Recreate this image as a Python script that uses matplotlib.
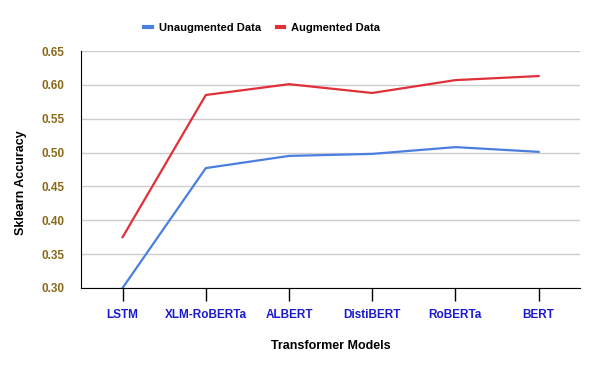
import matplotlib
matplotlib.use("Agg")
import matplotlib.pyplot as plt

models = ["LSTM", "XLM-RoBERTa", "ALBERT", "DistiBERT", "RoBERTa", "BERT"]
unaugmented = [0.300, 0.477, 0.495, 0.498, 0.508, 0.501]
augmented = [0.375, 0.585, 0.601, 0.588, 0.607, 0.613]
yticks = [0.30, 0.35, 0.40, 0.45, 0.50, 0.55, 0.60, 0.65]

plt.rcParams['font.family'] = ['Liberation Sans', 'DejaVu Sans']
plt.rcParams['font.weight'] = 'bold'

fig = plt.figure(figsize=(6, 3.71), dpi=100)
ax = fig.add_axes([0.135, 0.224, 0.832, 0.6385])

x = list(range(len(models)))
ax.plot(x, unaugmented, color="#4a7fe0", lw=1.6, label="Unaugmented Data")
ax.plot(x, augmented, color="#e0303a", lw=1.6, label="Augmented Data")

ax.set_xlim(-0.5, len(models) - 0.5)
ax.set_ylim(0.30, 0.65)
ax.set_yticks(yticks)
ax.set_yticklabels([f"{v:.2f}" for v in yticks], color="#8a6a1a", fontsize=8.5, fontweight='bold')
ax.set_xticks(x)
ax.set_xticklabels(models, color="#1a1ad0", fontsize=8.5, fontweight='bold')
ax.tick_params(axis='y', length=0, pad=12)
ax.tick_params(axis='x', length=9, width=1, color='black', pad=6)

ax.grid(axis='y', color='#cccccc', lw=1)
ax.set_axisbelow(True)
for s in ['top', 'right']:
    ax.spines[s].set_visible(False)
ax.spines['left'].set_color('black')
ax.spines['bottom'].set_color('black')

ax.set_xlabel("Transformer Models", fontsize=9, fontweight='bold', labelpad=14)
ax.set_ylabel("Sklearn Accuracy", fontsize=9, fontweight='bold')
ax.yaxis.set_label_coords(-0.108, 0.443)

leg = fig.legend(loc='upper center', bbox_to_anchor=(0.437, 0.965), ncol=2, frameon=False,
                 fontsize=8, handlelength=0.7, handletextpad=0.6, columnspacing=1.4)
for h in leg.legend_handles:
    h.set_linewidth(3)

fig.savefig("out.png", dpi=100)
